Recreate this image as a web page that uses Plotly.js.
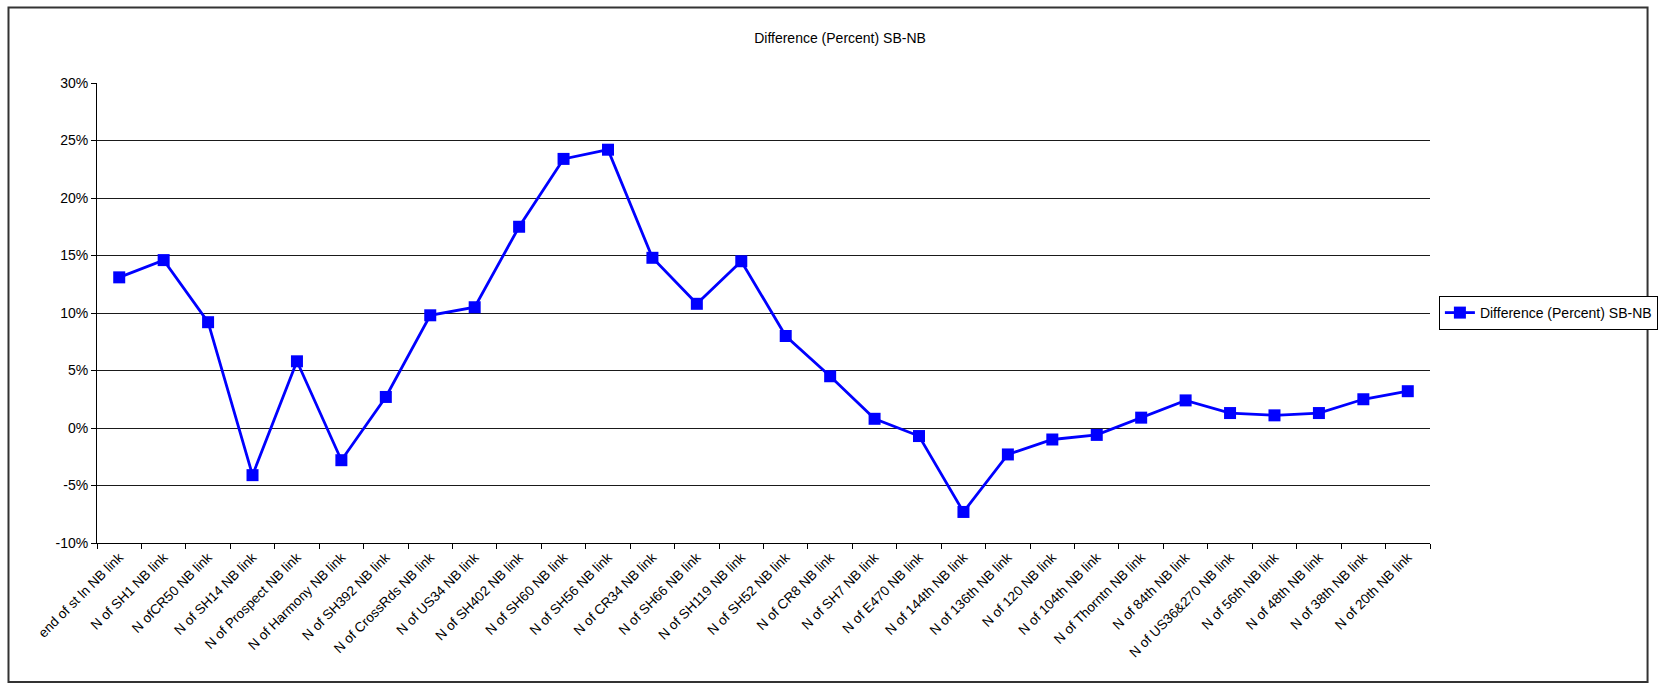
<!DOCTYPE html>
<html>
<head>
<meta charset="utf-8">
<script src="https://cdn.plot.ly/plotly-3.0.1.min.js"></script>
<style>
  html, body { margin: 0; padding: 0; background: #fff; }
  #chart { width: 1670px; height: 687px; }
</style>
</head>
<body>
<div id="chart"></div>
<script>
// Northbound links, in order along the corridor
const links = [
  "end of st ln NB link", "N of SH1 NB link", "N ofCR50 NB link", "N of SH14 NB link",
  "N of Prospect NB link", "N of Harmony NB link", "N of SH392 NB link", "N of CrossRds NB link",
  "N of US34 NB link", "N of SH402 NB link", "N of SH60 NB link", "N of SH56 NB link",
  "N of CR34 NB link", "N of SH66 NB link", "N of SH119 NB link", "N of SH52 NB link",
  "N of CR8 NB link", "N of SH7 NB link", "N of E470 NB link", "N of 144th NB link",
  "N of 136th NB link", "N of 120 NB link", "N of 104th NB link", "N of Thorntn NB link",
  "N of 84th NB link", "N of US36&270 NB link", "N of 56th NB link", "N of 48th NB link",
  "N of 38th NB link", "N of 20th NB link"
];

// SB minus NB difference, in percent
const diffPercent = [
  13.1, 14.6, 9.2, -4.1, 5.8, -2.8, 2.7, 9.8, 10.5, 17.5,
  23.4, 24.2, 14.8, 10.8, 14.5, 8.0, 4.5, 0.8, -0.7, -7.3,
  -2.3, -1.0, -0.6, 0.9, 2.4, 1.3, 1.1, 1.3, 2.5, 3.2
];

const seriesName = "Difference (Percent) SB-NB";
const yTicks = [-10, -5, 0, 5, 10, 15, 20, 25, 30];

const FONT = "Liberation Sans, Arial, Helvetica, sans-serif";

const trace = {
  type: "scatter",
  mode: "lines+markers",
  name: seriesName,
  x: links,
  y: diffPercent,
  line: { color: "#0000FF", width: 2.8 },
  marker: { symbol: "square", size: 12, color: "#0000FF", line: { width: 0 } },
  cliponaxis: false
};

const layout = {
  width: 1670,
  height: 687,
  paper_bgcolor: "#ffffff",
  plot_bgcolor: "#ffffff",
  font: { family: FONT, size: 14, color: "#000" },
  margin: { l: 97, r: 225, t: 83, b: 144, pad: 0 },
  title: {
    text: seriesName,
    font: { family: FONT, size: 14, color: "#000" },
    xref: "container", x: 0.503, xanchor: "center",
    yref: "container", y: 1 - 37.7 / 687, yanchor: "middle"
  },
  xaxis: {
    type: "category",
    range: [-0.5, links.length - 0.5],
    tickangle: -45,
    ticks: "outside",
    tickson: "boundaries",
    ticklen: 5,
    tickcolor: "#000",
    showline: true,
    linecolor: "#000",
    linewidth: 1,
    showgrid: false,
    zeroline: false,
    tickfont: { family: FONT, size: 13.6, color: "#000" },
    fixedrange: true
  },
  yaxis: {
    range: [-10, 30],
    tickvals: yTicks,
    ticktext: yTicks.map(v => v + "%"),
    ticks: "outside",
    ticklen: 5,
    tickcolor: "#000",
    showline: true,
    linecolor: "#000",
    linewidth: 1,
    showgrid: true,
    gridcolor: "#1a1a1a",
    gridwidth: 1,
    zeroline: false,
    tickfont: { family: FONT, size: 14, color: "#000" },
    fixedrange: true
  },
  showlegend: true,
  legend: {
    x: (1454 - 97) / 1348,
    xanchor: "left",
    y: 0.5,
    yanchor: "middle",
    bgcolor: "#ffffff",
    bordercolor: "#000",
    borderwidth: 1,
    font: { family: FONT, size: 14, color: "#000" },
    itemwidth: 30,
    tracegroupgap: 0
  },
  shapes: [
    {
      // outer chart frame
      type: "rect",
      xref: "paper", yref: "paper",
      x0: (7.5 - 97) / 1348, x1: (1665 - 97) / 1348,
      y0: (543 - 682) / 460, y1: (543 - 7.5) / 460,
      line: { color: "#333", width: 2 },
      fillcolor: "rgba(0,0,0,0)",
      layer: "below"
    }
  ]
};

Plotly.newPlot("chart", [trace], layout, { displayModeBar: false, staticPlot: true });
</script>
</body>
</html>
